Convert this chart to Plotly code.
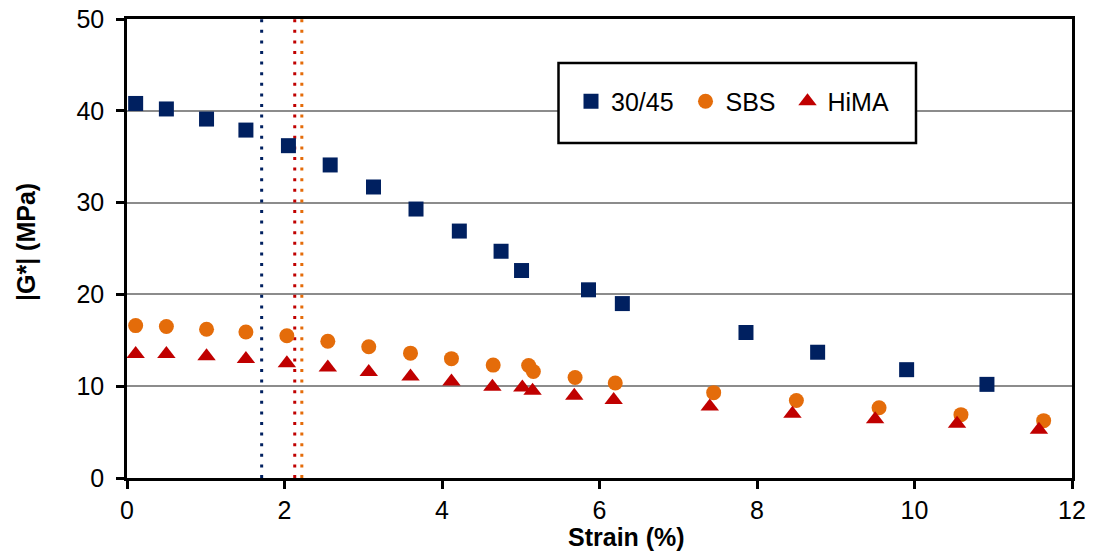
import plotly.graph_objects as go

# |G*| versus strain for three binders
strain_3045 = [0.11, 0.50, 1.01, 1.51, 2.05, 2.58, 3.13, 3.67, 4.22, 4.75, 5.01,
               5.86, 6.29, 7.86, 8.77, 9.90, 10.92]
g_3045 = [40.8, 40.2, 39.1, 37.9, 36.2, 34.1, 31.7, 29.3, 26.9, 24.7, 22.6,
          20.5, 19.0, 15.85, 13.7, 11.8, 10.2]

strain_sbs = [0.11, 0.50, 1.01, 1.51, 2.03, 2.55, 3.07, 3.60, 4.12, 4.65, 5.10,
              5.16, 5.69, 6.20, 7.45, 8.50, 9.55, 10.59, 11.64]
g_sbs = [16.6, 16.5, 16.2, 15.9, 15.5, 14.9, 14.3, 13.6, 13.0, 12.3, 12.25,
         11.6, 10.95, 10.35, 9.3, 8.45, 7.65, 6.9, 6.25]

strain_hima = [0.11, 0.50, 1.01, 1.51, 2.03, 2.55, 3.07, 3.60, 4.12, 4.64, 5.02,
               5.15, 5.68, 6.18, 7.40, 8.45, 9.50, 10.54, 11.58]
g_hima = [13.5, 13.5, 13.25, 12.95, 12.5, 12.05, 11.55, 11.05, 10.5, 9.95, 9.85,
          9.5, 8.95, 8.5, 7.8, 7.0, 6.4, 5.9, 5.25]

# Limit strains marked by vertical dotted lines
limit_3045 = 1.71
limit_hima = 2.13
limit_sbs = 2.22
g_span = [0, 50]

series_names = ["30/45", "SBS", "HiMA"]
x_ticks = [0, 2, 4, 6, 8, 10, 12]
y_ticks = [0, 10, 20, 30, 40, 50]

NAVY = "#002060"
ORANGE = "#E46C0A"
RED = "#C00000"
FONT = "Liberation Sans, Arial, sans-serif"
NBSP = "\u00a0"

# plot-area pixel geometry
L, R, T, B = 127, 21, 19, 74
PW, PH = 1093 - L - R, 552 - T - B


def px_x(px):
    return (px - L) / PW


def px_y(py):
    return (552 - B - py) / PH


fig = go.Figure()

for limit, color in [(limit_3045, NAVY), (limit_hima, RED), (limit_sbs, ORANGE)]:
    fig.add_trace(go.Scatter(
        x=[limit, limit], y=g_span, mode="lines", showlegend=False,
        hoverinfo="skip", cliponaxis=False,
        line=dict(color=color, width=3, dash="3px,7.6px"),
    ))

fig.add_trace(go.Scatter(
    x=strain_3045, y=g_3045, mode="markers", name=series_names[0] + NBSP,
    marker=dict(symbol="square", size=15, color=NAVY), cliponaxis=False,
))
fig.add_trace(go.Scatter(
    x=strain_sbs, y=g_sbs, mode="markers", name=series_names[1] + NBSP,
    marker=dict(symbol="circle", size=15, color=ORANGE), cliponaxis=False,
))
fig.add_trace(go.Scatter(
    x=strain_hima, y=g_hima, mode="markers", name=series_names[2],
    marker=dict(symbol="triangle-up", size=16, color=RED), cliponaxis=False,
))

axis_common = dict(
    showline=True, linecolor="black", linewidth=2.5, mirror=True,
    ticks="outside", ticklen=8, tickwidth=2.5, tickcolor="black",
    tickfont=dict(family=FONT, size=25, color="black"),
    zeroline=False, automargin=False,
)

fig.update_xaxes(
    range=[0, 12], tickvals=x_ticks, showgrid=False,
    ticklabelstandoff=0, **axis_common,
)
fig.update_yaxes(
    range=[0, 50], tickvals=y_ticks, showgrid=True,
    gridcolor="#8C8C8C", gridwidth=1.8,
    ticklabelstandoff=7, **axis_common,
)

fig.update_layout(
    width=1093, height=552, autosize=False,
    margin=dict(l=L, r=R, t=T, b=B, autoexpand=False),
    plot_bgcolor="white", paper_bgcolor="white",
    font=dict(family=FONT, size=25, color="black"),
    showlegend=True,
    legend=dict(
        orientation="h", x=px_x(571), y=px_y(101.5),
        xanchor="left", yanchor="middle",
        bgcolor="rgba(0,0,0,0)", borderwidth=0,
        font=dict(family=FONT, size=25, color="black"),
        itemwidth=30,
    ),
    shapes=[dict(
        type="rect", xref="paper", yref="paper",
        x0=px_x(558.5), x1=px_x(916), y0=px_y(143), y1=px_y(63),
        line=dict(color="black", width=2.5), fillcolor="white", layer="above",
    )],
    annotations=[
        dict(text="<b>Strain (%)</b>", xref="paper", yref="paper",
             x=px_x(626), y=px_y(537),
             xanchor="center", yanchor="middle", showarrow=False,
             font=dict(family=FONT, size=25, color="black")),
        dict(text="<b>|G*| (MPa)</b>", xref="paper", yref="paper",
             x=px_x(26), y=px_y(242), textangle=-90,
             xanchor="center", yanchor="middle", showarrow=False,
             font=dict(family=FONT, size=25, color="black")),
    ],
)

fig.write_html("out.html")
